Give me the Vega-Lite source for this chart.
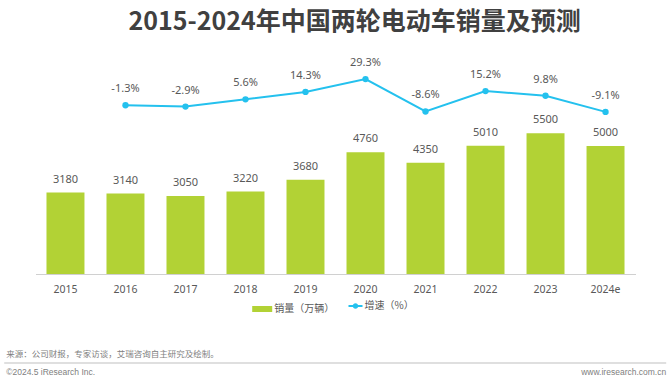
{
  "$schema": "https://vega.github.io/schema/vega-lite/v6.json",
  "padding": {"left": 3, "right": 4, "top": 10, "bottom": 0},
  "background": "white",
  "center": true,
  "spacing": 36,
  "config": {
    "view": {"stroke": null},
    "font": "Noto Sans CJK SC",
    "locale": {"number": {"decimal": ".", "thousands": ",", "grouping": [3], "currency": ["", ""], "minus": "-"}}
  },
  "datasets": {
    "sales": [
      {"year": "2015", "sales": 3180, "growth": null},
      {"year": "2016", "sales": 3140, "growth": -0.013},
      {"year": "2017", "sales": 3050, "growth": -0.029},
      {"year": "2018", "sales": 3220, "growth": 0.056},
      {"year": "2019", "sales": 3680, "growth": 0.143},
      {"year": "2020", "sales": 4760, "growth": 0.293},
      {"year": "2021", "sales": 4350, "growth": -0.086},
      {"year": "2022", "sales": 5010, "growth": 0.152},
      {"year": "2023", "sales": 5500, "growth": 0.098},
      {"year": "2024e", "sales": 5000, "growth": -0.091}
    ],
    "footer": [
      {"row": "a", "side": "left", "kind": "cn", "text": "来源：公司财报，专家访谈，艾瑞咨询自主研究及绘制。"},
      {"row": "b", "side": "left", "kind": "rule", "text": ""},
      {"row": "c", "side": "left", "kind": "en", "text": "©2024.5 iResearch Inc."},
      {"row": "c", "side": "right", "kind": "en", "text": "www.iresearch.com.cn"}
    ]
  },
  "vconcat": [
    {
      "title": {
        "text": "2015-2024年中国两轮电动车销量及预测",
        "font": "Noto Sans CJK SC",
        "fontSize": 25,
        "fontWeight": "bold",
        "color": "#404040",
        "anchor": "middle",
        "dx": 19,
        "offset": 15
      },
      "width": 600,
      "height": 224,
      "data": {"name": "sales"},
      "encoding": {
        "x": {
          "field": "year",
          "type": "ordinal",
          "sort": null,
          "scale": {"paddingInner": 0.367, "paddingOuter": 0.183},
          "axis": {
            "title": null,
            "labelAngle": 0,
            "ticks": false,
            "domainColor": "#d0d0d0",
            "domainWidth": 1,
            "labelFont": "Noto Sans",
            "labelFontSize": 10.5,
            "labelColor": "#595959",
            "labelPadding": 10
          }
        }
      },
      "layer": [
        {
          "encoding": {
            "y": {"field": "sales", "type": "quantitative", "scale": {"domain": [0, 8750]}, "axis": null}
          },
          "layer": [
            {
              "mark": {"type": "bar", "color": "#b2d235"},
              "encoding": {
                "color": {
                  "datum": "销量（万辆）",
                  "scale": {"range": ["#b2d235"]},
                  "legend": {
                    "orient": "none",
                    "legendX": 216.7,
                    "legendY": 249,
                    "title": null,
                    "padding": 0,
                    "symbolType": "M-1,-0.3H1V0.3H-1Z",
                    "symbolSize": 400,
                    "symbolStrokeWidth": 0,
                    "labelFont": "Noto Sans CJK SC",
                    "labelFontSize": 10,
                    "labelColor": "#595959",
                    "labelOffset": 2
                  }
                }
              }
            },
            {
              "mark": {"type": "text", "font": "Noto Sans", "fontSize": 11, "color": "#595959", "baseline": "middle", "dy": -13},
              "encoding": {"text": {"field": "sales", "type": "quantitative", "format": "d"}}
            }
          ]
        },
        {
          "transform": [{"filter": "datum.growth != null"}],
          "encoding": {
            "y": {"field": "growth", "type": "quantitative", "scale": {"domain": [-1.987, 0.633]}, "axis": null}
          },
          "layer": [
            {
              "mark": {"type": "line", "strokeWidth": 2, "color": "#24c1ee", "point": {"filled": true, "size": 40, "color": "#24c1ee"}},
              "encoding": {
                "color": {
                  "datum": "增速（%）",
                  "scale": {"range": ["#24c1ee"]},
                  "legend": {
                    "orient": "none",
                    "legendX": 313,
                    "legendY": 249,
                    "title": null,
                    "padding": 0,
                    "symbolType": "M-1,-0.14H1V0.14H-1Z M0.39,0A0.39,0.39,0,1,1,-0.39,0A0.39,0.39,0,1,1,0.39,0Z",
                    "symbolSize": 196,
                    "symbolStrokeWidth": 0,
                    "symbolFillColor": "#24c1ee",
                    "labelFont": "Noto Sans CJK SC",
                    "labelFontSize": 10,
                    "labelColor": "#595959",
                    "labelOffset": 2,
                    "encode": {"symbols": {"update": {"fill": {"value": "#24c1ee"}, "strokeWidth": {"value": 0}, "opacity": {"value": 1}}}}
                  }
                }
              }
            },
            {
              "mark": {"type": "text", "font": "Noto Sans", "fontSize": 11, "color": "#595959", "baseline": "middle", "dy": -16},
              "encoding": {"text": {"field": "growth", "type": "quantitative", "format": ".1%"}}
            }
          ]
        }
      ],
      "resolve": {"scale": {"y": "independent", "color": "independent"}, "legend": {"color": "independent"}}
    },
    {
      "width": 662,
      "height": 18,
      "data": {"name": "footer"},
      "encoding": {
        "y": {"field": "row", "type": "ordinal", "scale": {"type": "point", "domain": ["a", "b", "c"], "padding": 0}, "axis": null}
      },
      "layer": [
        {
          "transform": [{"filter": "datum.kind == 'rule'"}],
          "mark": {"type": "rule", "color": "#c0c0c0", "strokeWidth": 1.2},
          "encoding": {}
        },
        {
          "transform": [{"filter": "datum.kind == 'cn'"}],
          "mark": {"type": "text", "align": "left", "baseline": "middle", "dx": 2, "font": "Noto Sans CJK SC", "fontSize": 8.5, "color": "#808080"},
          "encoding": {
            "x": {"field": "side", "type": "nominal", "scale": {"type": "point", "domain": ["left", "right"], "range": [0, 662], "padding": 0}, "axis": null},
            "text": {"field": "text"}
          }
        },
        {
          "transform": [{"filter": "datum.kind == 'en' && datum.side == 'left'"}],
          "mark": {"type": "text", "align": "left", "baseline": "middle", "dx": 2, "font": "Liberation Sans", "fontSize": 8.5, "color": "#808080"},
          "encoding": {
            "x": {"field": "side", "type": "nominal", "scale": {"type": "point", "domain": ["left", "right"], "range": [0, 662], "padding": 0}, "axis": null},
            "text": {"field": "text"}
          }
        },
        {
          "transform": [{"filter": "datum.kind == 'en' && datum.side == 'right'"}],
          "mark": {"type": "text", "align": "right", "baseline": "middle", "dx": 0, "font": "Liberation Sans", "fontSize": 8.5, "color": "#808080"},
          "encoding": {
            "x": {"field": "side", "type": "nominal", "scale": {"type": "point", "domain": ["left", "right"], "range": [0, 662], "padding": 0}, "axis": null},
            "text": {"field": "text"}
          }
        }
      ]
    }
  ]
}
